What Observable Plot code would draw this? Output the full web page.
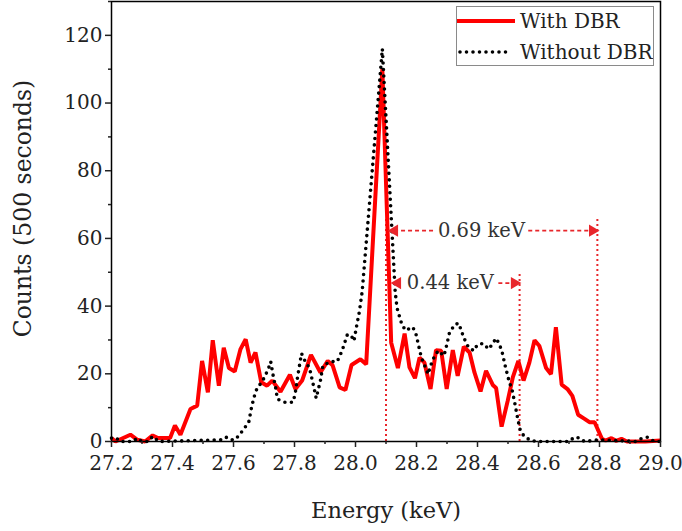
<!DOCTYPE html>
<html><head><meta charset="utf-8">
<script src="https://cdn.jsdelivr.net/npm/d3@7"></script>
<script src="https://cdn.jsdelivr.net/npm/@observablehq/plot@0.6"></script>
<style>
html,body{margin:0;padding:0;background:#fff;}
#wrap{position:relative;width:682px;height:531px;overflow:hidden;}
#legend{position:absolute;left:456px;top:6px;width:196px;height:58px;border:1px solid #8a8a8a;background:#fff;}
#legend svg{display:block;}
</style></head><body><div id="wrap"><div id="legend"></div></div>
<script>
// "With DBR" spectrum (red solid)
const energyWith = [27.200,27.213,27.262,27.285,27.310,27.335,27.352,27.392,27.408,27.426,27.459,27.481,27.497,27.516,27.532,27.552,27.568,27.585,27.604,27.623,27.640,27.656,27.672,27.691,27.710,27.727,27.754,27.785,27.803,27.825,27.854,27.885,27.909,27.925,27.948,27.967,27.987,28.016,28.035,28.088,28.117,28.139,28.161,28.177,28.195,28.210,28.226,28.246,28.264,28.281,28.299,28.319,28.335,28.355,28.374,28.390,28.410,28.428,28.450,28.461,28.479,28.499,28.516,28.534,28.551,28.570,28.587,28.603,28.625,28.641,28.657,28.676,28.695,28.711,28.730,28.751,28.767,28.784,28.808,28.820,28.839,28.854,28.872,28.890,28.950,29.000];
const countsWith = [1,0,2,0.5,0,1.8,1,1,4.7,2,9.6,10.6,23.8,14.5,29.9,16.5,27.7,21.7,20.7,27.3,30.2,23.3,26.3,17.5,16.5,18,14.7,19.7,15.5,18,25.6,20.4,23.8,22.5,16,15.2,22.6,24.3,22.8,110,29.2,21.7,31.9,21.9,18.7,24.8,23.3,15.5,27,26.8,15.5,27,19.4,28,26.3,20.4,14.8,20.9,16.7,15.8,4.4,12,19,23.8,18,23.3,29.9,28.2,21.7,19.9,33.8,16.8,15.5,13.5,7.9,6.7,5.7,5.7,0.8,0.3,1,0.2,0.8,0,0,0.3];

// "Without DBR" spectrum (black dotted)
const energyWithout = [27.200,27.213,27.230,27.270,27.285,27.300,27.320,27.335,27.355,27.560,27.575,27.590,27.605,27.620,27.634,27.650,27.659,27.667,27.675,27.700,27.714,27.722,27.730,27.738,27.744,27.769,27.795,27.802,27.810,27.817,27.823,27.836,27.849,27.866,27.871,27.877,27.885,27.893,27.918,27.940,27.956,27.973,27.985,27.995,28.003,28.013,28.022,28.088,28.130,28.136,28.144,28.152,28.164,28.188,28.199,28.206,28.216,28.227,28.238,28.246,28.257,28.271,28.290,28.297,28.308,28.326,28.339,28.348,28.359,28.370,28.388,28.399,28.418,28.437,28.448,28.461,28.472,28.481,28.492,28.503,28.514,28.523,28.530,28.539,28.552,28.574,28.600,28.700,28.718,28.736,28.750,28.800,28.850,28.920,28.936,28.956,28.980,29.000];
const countsWithout = [1,1.2,0,0,1,0,0,1.5,0,0.5,1.3,0.5,0.5,2,3.7,5.7,10,13,15.2,18.7,21.4,23.6,19.5,16,12.5,11.6,11.6,14,19,22.8,26,23.5,21.8,15,12.8,15,18,22.4,23.6,23.6,26.8,31.5,31.5,29.7,33.8,38.5,44.4,116,44.4,39.5,37,34.6,32.8,33.8,31.5,28.7,24.8,22.4,19.9,22.4,24.8,26.8,25.3,27.7,32.1,34.6,34.9,32.4,29.9,27.9,26.8,28.5,29,27.3,28.7,30.5,28.7,26.3,21.9,18,15,11,7.6,3.7,1.6,0.3,0,0,1.3,1,0,0.5,0.3,0,0.8,1.3,0,0];

// axis ticks
const xTicks = [27.2,27.4,27.6,27.8,28.0,28.2,28.4,28.6,28.8,29.0];
const xMinor = [27.3,27.5,27.7,27.9,28.1,28.3,28.5,28.7,28.9];
const yTicks = [0,20,40,60,80,100,120];
const yMinor = [10,30,50,70,90,110,130];

// width annotations
const markerEnergy = [28.1, 28.538, 28.793];
const markerTop = [66, 50, 66];
const widthLabels = ["0.69 keV", "0.44 keV"];
const widthLevel = [62.3, 46.8];
const widthLabelX = [28.413, 28.311];
const segX1 = [28.128, 28.568, 28.470];
const segX2 = [28.262, 28.775, 28.515];
const segLevel = [62.3, 62.3, 46.8];
const headX = [28.128, 28.777, 28.138, 28.521];
const headLevel = [62.3, 62.3, 46.8, 46.8];
const headRot = [-90, 90, -90, 90];

const red = energyWith.map((e, i) => ({e, c: countsWith[i]}));
const blk = energyWithout.map((e, i) => ({e, c: countsWithout[i]}));
const markers = markerEnergy.map((e, i) => ({e, top: markerTop[i]}));
const segs = segX1.map((x1, i) => ({x1, x2: segX2[i], y: segLevel[i]}));
const heads = headX.map((x, i) => ({x, y: headLevel[i], r: headRot[i]}));
const labs = widthLabels.map((t, i) => ({t, x: widthLabelX[i], y: widthLevel[i]}));

const annoColor = "#e8262b";
const plot = Plot.plot({
  width: 682, height: 531,
  marginLeft: 111, marginRight: 22, marginTop: 1, marginBottom: 90,
  x: {domain: [27.2, 29.0]},
  y: {domain: [0, 130]},
  style: {fontFamily: "'DejaVu Serif', serif", fontSize: "20px", color: "#222", background: "white", overflow: "visible"},
  marks: [
    Plot.ruleX(markers, {x: "e", y1: 0, y2: "top", stroke: annoColor, strokeWidth: 2, strokeDasharray: "2 3"}),
    Plot.line(red, {x: "e", y: "c", stroke: "#ff0000", strokeWidth: 4, strokeLinejoin: "miter", strokeLinecap: "butt"}),
    Plot.line(blk, {x: "e", y: "c", stroke: "#000", strokeWidth: 3.6, strokeDasharray: "0 6.5", strokeLinecap: "round"}),
    Plot.ruleY(segs, {y: "y", x1: "x1", x2: "x2", stroke: annoColor, strokeWidth: 1.8, strokeDasharray: "4 3"}),
    Plot.dot(heads, {x: "x", y: "y", symbol: "triangle", r: 4.5, fill: annoColor, stroke: "none", rotate: "r"}),
    Plot.text(labs, {x: "x", y: "y", text: "t", fill: "#333", fontSize: 19.5}),
    Plot.frame({stroke: "#000", strokeWidth: 1.5}),
    Plot.axisX(xTicks, {tickSize: 6, tickPadding: 8, tickFormat: d => d.toFixed(1), label: null, strokeWidth: 1.5}),
    Plot.axisX(xMinor, {tickSize: 3, fill: "none", label: null, strokeWidth: 1.5}),
    Plot.axisY(yTicks, {tickSize: 6, tickPadding: 3, label: null, strokeWidth: 1.5}),
    Plot.axisY(yMinor, {tickSize: 3, fill: "none", label: null, strokeWidth: 1.5}),
    Plot.text(["Energy (keV)"], {frameAnchor: "bottom", dy: 69, text: d => d, fontSize: 22.5, lineAnchor: "middle", fill: "#222"}),
    Plot.text(["Counts (500 seconds)"], {frameAnchor: "left", dx: -88, dy: -13, rotate: -90, text: d => d, fontSize: 23.5, textAnchor: "middle", lineAnchor: "middle", fill: "#222"})
  ]
});
document.getElementById("wrap").prepend(plot);

// legend
const lg = d3.select("#legend").append("svg").attr("width", 196).attr("height", 58)
  .style("font-family", "'DejaVu Serif', serif").style("font-size", "20px");
lg.append("line").attr("x1", 0).attr("x2", 58).attr("y1", 14).attr("y2", 14).attr("stroke", "#ff0000").attr("stroke-width", 4);
lg.append("line").attr("x1", 3).attr("x2", 54).attr("y1", 45).attr("y2", 45).attr("stroke", "#000").attr("stroke-width", 3.6).attr("stroke-dasharray", "0 6.5").attr("stroke-linecap", "round");
lg.append("text").attr("x", 63).attr("y", 14).attr("dy", "0.35em").attr("fill", "#222").text("With DBR");
lg.append("text").attr("x", 63).attr("y", 45).attr("dy", "0.35em").attr("fill", "#222").text("Without DBR");
</script>
</body></html>
